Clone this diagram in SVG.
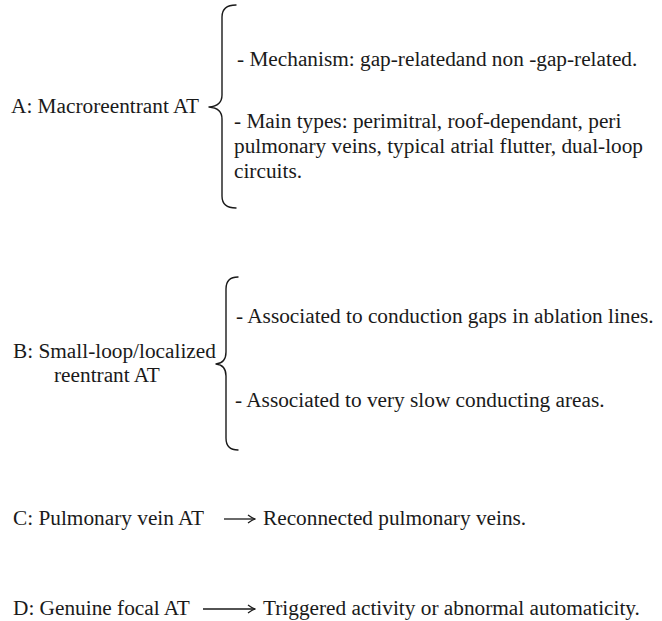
<svg xmlns="http://www.w3.org/2000/svg" width="662" height="621" viewBox="0 0 662 621">
<defs>
<style>
text{font-family:"Liberation Serif","Times New Roman",serif;font-size:21.3px;fill:#1a1a1a}
.br{fill:none;stroke:#1a1a1a;stroke-width:1.4;stroke-linecap:round;stroke-linejoin:round}
.ar{fill:none;stroke:#1a1a1a;stroke-width:1.3}
</style>
<marker id="head" markerWidth="10" markerHeight="10" refX="9" refY="5" orient="auto" markerUnits="userSpaceOnUse">
<path d="M2,1 Q6,4 9,5 Q6,6 2,9" fill="none" stroke="#1a1a1a" stroke-width="1.3"/>
</marker>
</defs>
<rect width="662" height="621" fill="#ffffff"/>
<g id="connectors">
<path class="br" d="M236,5 Q222,5 222,17 L222,95 Q222,106 209,107 Q222,108 222,119 L222,196 Q222,208 236,208"/>
<path class="br" d="M238,277 Q226,277 226,289 L226,352 Q226,363 216,364 Q226,365 226,376 L226,438 Q226,450 238,450"/>
<line class="ar" x1="224" y1="519" x2="255" y2="519" marker-end="url(#head)"/>
<line class="ar" x1="203" y1="609" x2="255" y2="609" marker-end="url(#head)"/>
</g>
<g id="nodeA">
<text x="11" y="113">A: Macroreentrant AT</text>
</g>
<g id="nodeA-details">
<text x="237" y="66">- Mechanism: gap-relatedand non -gap-related.</text>
<text x="234" y="128">- Main types: perimitral, roof-dependant, peri</text>
<text x="234" y="153">pulmonary veins, typical atrial flutter, dual-loop</text>
<text x="234" y="178">circuits.</text>
</g>
<g id="nodeB">
<text x="13" y="358">B: Small-loop/localized</text>
<text x="54" y="382">reentrant AT</text>
</g>
<g id="nodeB-details">
<text x="236" y="323">- Associated to conduction gaps in ablation lines.</text>
<text x="235" y="407">- Associated to very slow conducting areas.</text>
</g>
<g id="nodeC">
<text x="13" y="525">C: Pulmonary vein AT</text>
</g>
<g id="nodeC-target">
<text x="263" y="525">Reconnected pulmonary veins.</text>
</g>
<g id="nodeD">
<text x="13" y="615">D: Genuine focal AT</text>
</g>
<g id="nodeD-target">
<text x="263" y="615">Triggered activity or abnormal automaticity.</text>
</g>
</svg>
